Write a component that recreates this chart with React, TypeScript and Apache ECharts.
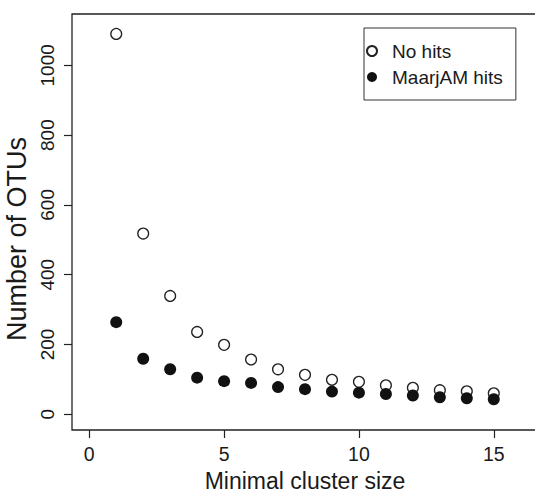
import React, { useEffect, useRef } from "react";
import * as echarts from "echarts";

const clusterSizes = [1, 2, 3, 4, 5, 6, 7, 8, 9, 10, 11, 12, 13, 14, 15];
const noHits = [1090, 518, 339, 236, 199, 157, 129, 113, 99, 93, 83, 76, 69, 66, 60];
const maarjamHits = [264, 159, 129, 105, 95, 90, 78, 72, 65, 62, 58, 54, 49, 46, 43];
const xTicks = [0, 5, 10, 15];
const yTicks = [0, 200, 400, 600, 800, 1000];
const seriesNames = ["No hits", "MaarjAM hits"];

const FONT = "'Liberation Sans', Arial, Helvetica, sans-serif";
const INK = "#1a1a1a";

export default function App() {
  const ref = useRef<HTMLDivElement>(null);
  useEffect(() => {
    document.body.style.margin = "0";
    if (!ref.current) return;
    const chart = echarts.init(ref.current, null, { renderer: "svg" });
    chart.setOption({
      animation: false,
      backgroundColor: "#ffffff",
      grid: {
        left: 72,
        top: 14,
        width: 466,
        height: 416,
        containLabel: false,
        outerBoundsMode: "none",
        show: true,
        borderColor: "#222",
        borderWidth: 1.3,
        backgroundColor: "transparent",
      },
      legend: {
        orient: "vertical",
        left: 364,
        top: 28,
        data: seriesNames,
        icon: "circle",
        itemWidth: 30,
        itemHeight: 10,
        itemGap: 6,
        padding: [13, 13, 13, 2],
        borderColor: "#333",
        borderWidth: 1,
        textStyle: { fontFamily: FONT, fontSize: 19, color: INK, lineHeight: 20 },
      },
      xAxis: {
        type: "value",
        min: -0.64,
        max: 16.64,
        name: "Minimal cluster size",
        nameLocation: "middle",
        nameGap: 39,
        nameTextStyle: { fontFamily: FONT, fontSize: 23, color: INK },
        axisLine: { show: false, onZero: false },
        splitLine: { show: false },
        axisTick: {
          show: true,
          inside: false,
          length: 8,
          customValues: xTicks,
          lineStyle: { color: "#222", width: 1.2 },
        },
        axisLabel: {
          customValues: xTicks,
          margin: 14,
          fontFamily: FONT,
          fontSize: 19.5,
          color: INK,
          formatter: (v: number) => String(v),
        },
      },
      yAxis: {
        type: "value",
        min: -45,
        max: 1147,
        name: "Number of OTUs",
        nameLocation: "middle",
        nameGap: 22,
        nameTextStyle: { fontFamily: FONT, fontSize: 27, color: INK, padding: [0, 34, 0, 0] },
        axisLine: { show: false, onZero: false },
        splitLine: { show: false },
        axisTick: {
          show: true,
          inside: false,
          length: 8,
          customValues: yTicks,
          lineStyle: { color: "#222", width: 1.2 },
        },
        axisLabel: {
          customValues: yTicks,
          rotate: 90,
          margin: 15,
          fontFamily: FONT,
          fontSize: 19,
          color: INK,
          formatter: (v: number) => String(v),
        },
      },
      series: [
        {
          name: seriesNames[0],
          type: "scatter",
          symbol: "circle",
          symbolSize: 10.8,
          itemStyle: { color: "#ffffff", borderColor: "#222", borderWidth: 1.3, opacity: 1 },
          data: clusterSizes.map((x, i) => [x, noHits[i]]),
          z: 2,
        },
        {
          name: seriesNames[1],
          type: "scatter",
          symbol: "circle",
          symbolSize: 12,
          itemStyle: { color: "#111111", opacity: 1 },
          data: clusterSizes.map((x, i) => [x, maarjamHits[i]]),
          z: 3,
        },
      ],
    });
    return () => chart.dispose();
  }, []);
  return <div ref={ref} style={{ width: 535, height: 493 }} />;
}
